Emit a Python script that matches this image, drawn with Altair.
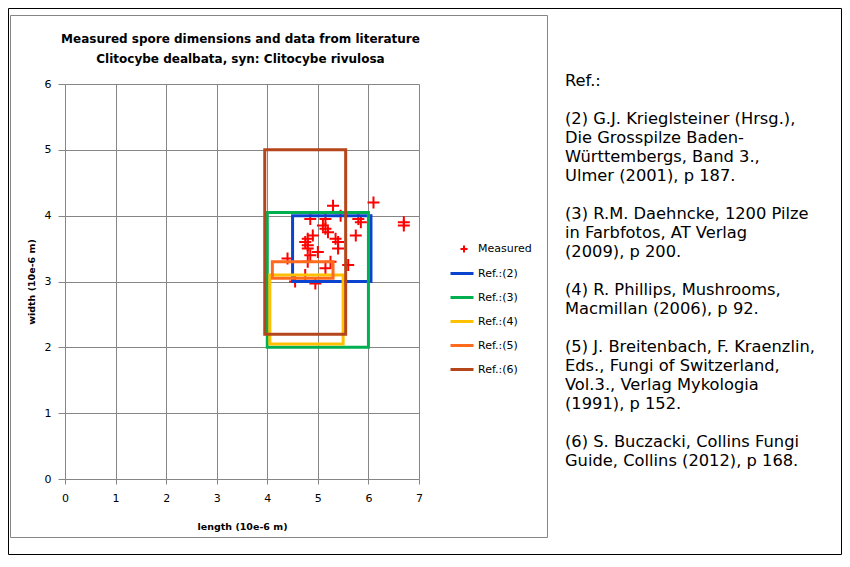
import altair as alt
import pandas as pd

# ---- data ----
meas_length = [5.3, 6.1, 5.45, 4.85, 5.15, 5.8, 5.85, 5.1, 5.15, 4.9, 4.8, 5.35, 5.75,
               5.4, 4.8, 4.8, 5.4, 5.0, 4.85, 4.4, 4.8, 5.25, 5.6, 5.15, 4.75, 4.55,
               4.95, 6.7, 6.7, 5.2, 4.75]
meas_width = [4.15, 4.2, 4.0, 3.95, 3.95, 3.95, 3.9, 3.85, 3.8, 3.7, 3.65, 3.65, 3.7,
              3.6, 3.55, 3.5, 3.5, 3.45, 3.4, 3.35, 3.3, 3.3, 3.25, 3.2, 3.1, 3.0,
              2.97, 3.9, 3.85, 3.75, 3.6]

ref_names = ["Ref.:(2)", "Ref.:(3)", "Ref.:(4)", "Ref.:(5)", "Ref.:(6)"]
ref_len_min = [4.5, 4.0, 4.05, 4.1, 3.95]
ref_len_max = [6.05, 6.0, 5.5, 5.3, 5.55]
ref_wid_min = [3.0, 2.0, 2.05, 3.05, 2.2]
ref_wid_max = [4.0, 4.05, 3.1, 3.3, 5.0]
ref_colors = ["#0A44CE", "#00B050", "#FFC000", "#FF6A1C", "#B5461B"]

x_ticks = [0, 1, 2, 3, 4, 5, 6, 7]
y_ticks = [0, 1, 2, 3, 4, 5, 6]

title_lines = ["Measured spore dimensions and data from literature",
               "Clitocybe dealbata, syn: Clitocybe rivulosa"]
x_title = "length (10e-6 m)"
y_title = "width (10e-6 m)"

ref_paragraphs = [
    ["Ref.:"],
    ["(2) G.J. Krieglsteiner (Hrsg.),",
     "Die Grosspilze Baden-",
     "Württembergs, Band 3.,",
     "Ulmer (2001), p 187."],
    ["(3) R.M. Daehncke, 1200 Pilze",
     "in Farbfotos, AT Verlag",
     "(2009), p 200."],
    ["(4) R. Phillips, Mushrooms,",
     "Macmillan (2006), p 92."],
    ["(5) J. Breitenbach, F. Kraenzlin,",
     "Eds., Fungi of Switzerland,",
     "Vol.3., Verlag Mykologia",
     "(1991), p 152."],
    ["(6) S. Buczacki, Collins Fungi",
     "Guide, Collins (2012), p 168."],
]

# ---- tables ----
df_m = pd.DataFrame({"length": meas_length, "width": meas_width, "series": "Measured"})
df_r = pd.DataFrame({"ref": ref_names, "x1": ref_len_min, "x2": ref_len_max,
                     "y1": ref_wid_min, "y2": ref_wid_max})
one = pd.DataFrame({"a": [0]})

PLUS = "M-1,0L1,0M0,-1L0,1"
GRID = "#868686"
FONT = "DejaVu Sans"
LINE_H = 19

xscale = alt.Scale(domain=[0, 7], nice=False, zero=True)
yscale = alt.Scale(domain=[0, 6], nice=False, zero=True)

xaxis = alt.Axis(values=x_ticks, grid=True, gridColor=GRID, domainColor=GRID,
                 tickColor=GRID, tickSize=5, labelFont=FONT, labelFontSize=11,
                 labelColor="black", labelPadding=8, labelFlush=False,
                 labelOverlap=False, title=x_title, titleFont=FONT,
                 titleFontSize=9.5, titleFontWeight="bold", titleColor="black",
                 titlePadding=18, format="d")
yaxis = alt.Axis(values=y_ticks, grid=True, gridColor=GRID, domainColor=GRID,
                 tickColor=GRID, tickSize=7, labelFont=FONT, labelFontSize=11,
                 labelColor="black", labelPadding=7, labelFlush=False,
                 labelOverlap=False, title=y_title, titleFont=FONT,
                 titleFontSize=9.5, titleFontWeight="bold", titleColor="black",
                 titlePadding=8, format="d")

# frames
outer = alt.Chart(one).mark_rect(fill=None, stroke="black", strokeWidth=1).encode(
    x=alt.value(-56.5), x2=alt.value(776.5), y=alt.value(-75.5), y2=alt.value(470.5))
inner = alt.Chart(one).mark_rect(fill=None, stroke=GRID, strokeWidth=1).encode(
    x=alt.value(-54.5), x2=alt.value(482.5), y=alt.value(-68.5), y2=alt.value(453.5))

pts = alt.Chart(df_m).mark_point(shape=PLUS, filled=False, size=144,
                                 strokeWidth=2, opacity=1).encode(
    x=alt.X("length:Q", scale=xscale, axis=xaxis),
    y=alt.Y("width:Q", scale=yscale, axis=yaxis),
    color=alt.Color("series:N",
                    scale=alt.Scale(domain=["Measured"], range=["#FF0000"]),
                    legend=alt.Legend(orient="none", legendX=393.5, legendY=159.5,
                                      title=None, symbolType=PLUS, symbolSize=49,
                                      symbolStrokeWidth=2, labelFont=FONT,
                                      labelFontSize=11, labelColor="black",
                                      labelOffset=8.5, padding=0)),
)

rects = alt.Chart(df_r).mark_rect(filled=False, strokeWidth=3).encode(
    x=alt.X("x1:Q", scale=xscale, axis=xaxis),
    x2="x2:Q",
    y=alt.Y("y1:Q", scale=yscale, axis=yaxis),
    y2="y2:Q",
    color=alt.Color("ref:N", sort=ref_names,
                    scale=alt.Scale(domain=ref_names, range=ref_colors),
                    legend=alt.Legend(orient="none", legendX=384, legendY=176.5,
                                      title=None, symbolType="stroke", symbolSize=529,
                                      symbolStrokeWidth=3, labelFont=FONT,
                                      labelFontSize=11, labelColor="black",
                                      labelOffset=3, rowPadding=5, padding=0)),
)

title = alt.Chart(one).mark_text(text=title_lines, font=FONT, fontSize=12,
                                 fontWeight="bold", align="center",
                                 baseline="alphabetic", lineHeight=20,
                                 color="black").encode(
    x=alt.value(175.5), y=alt.value(-41))

# reference notes: one text block per paragraph, blank line between paragraphs
text_layers = []
line_no = 0
for para in ref_paragraphs:
    text_layers.append(
        alt.Chart(one).mark_text(text=para, font=FONT, fontSize=16.3, align="left",
                                 baseline="alphabetic", lineHeight=LINE_H,
                                 color="black").encode(
            x=alt.value(500), y=alt.value(2 + line_no * LINE_H)))
    line_no += len(para) + 1

chart = alt.layer(outer, inner, pts, rects, title, *text_layers).resolve_scale(
    color="independent"
).properties(
    width=354, height=395,
    autosize=alt.AutoSizeParams(type="none"),
    padding={"left": 57, "top": 76, "right": 423, "bottom": 76},
    background="white",
).configure_view(stroke=None)

chart.save("out.html", embed_options={"renderer": "svg", "actions": False})
